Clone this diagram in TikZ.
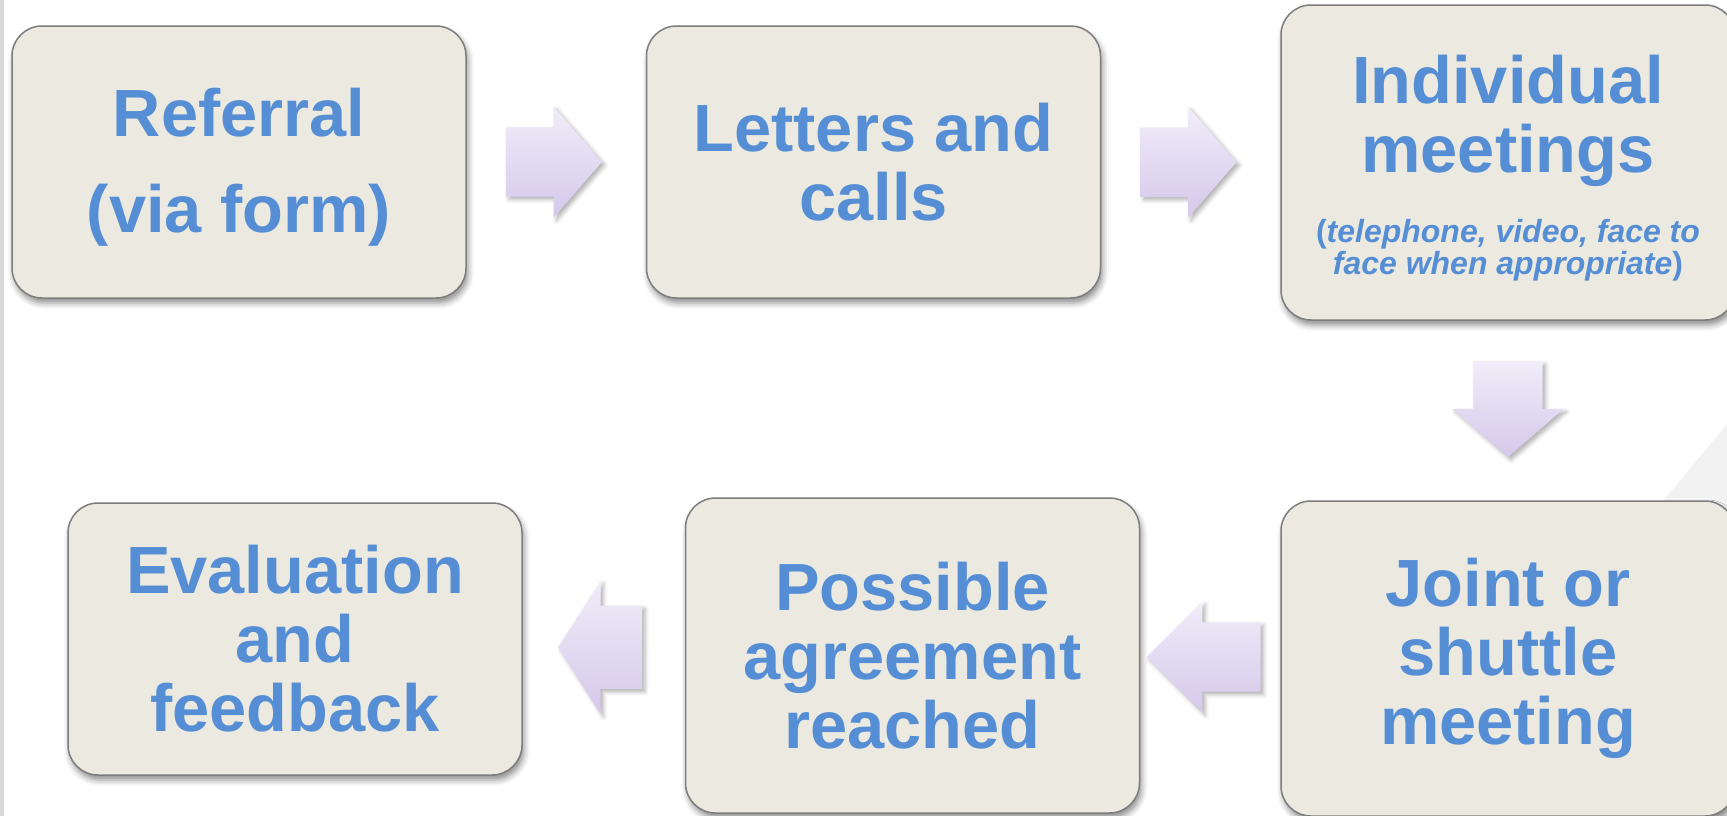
\documentclass[tikz,border=0pt]{standalone}
\usepackage{fontspec}
\setmainfont{Liberation Sans}
\usetikzlibrary{shapes.arrows,calc,shadows.blur}
\definecolor{boxfill}{RGB}{236,234,224}
\definecolor{boxline}{RGB}{125,125,125}
\definecolor{stepblue}{RGB}{85,142,213}
\definecolor{arrowtop}{RGB}{241,237,249}
\definecolor{arrowbot}{RGB}{212,200,234}
\definecolor{sidegrey}{RGB}{217,217,217}
\definecolor{cornergrey}{RGB}{242,242,242}
\newcommand{\smallnote}[1]{{\fontsize{9.1}{9.1}\selectfont #1}}

\begin{document}
\begin{tikzpicture}[
        x=0.1mm, y=-0.1mm,
        box/.style={rectangle, rounded corners=3mm, draw=boxline, line width=0.15mm,
            fill=boxfill, text=stepblue, inner sep=0pt,
            minimum width=45.4mm, minimum height=#1,
            align=center, font=\fontsize{19}{19.6}\selectfont\bfseries,
            blur shadow={shadow xshift=0.2mm, shadow yshift=-0.5mm,
                shadow blur radius=0.6mm, shadow opacity=45}},
        box/.default=27.2mm,
        flow/.style={single arrow, draw=none, top color=arrowtop, bottom color=arrowbot,
            anchor=tail, inner sep=0pt, inner ysep=3.4mm, single arrow head extend=2.1mm,
            minimum height=9.6mm, single arrow tip angle=98,
            blur shadow={shadow xshift=0.3mm, shadow yshift=-0.3mm,
                shadow blur radius=0.4mm, shadow opacity=30}}
    ]
        \useasboundingbox (0,0) rectangle (1727,816);
        \fill[sidegrey] (0,0) rectangle (4,816);
        \fill[cornergrey] (1600,577) -- (1727,424) -- (1727,816) -- (1600,816) -- cycle;

        % top row
        \node[box] (referral) at (239,162) {\rule{0pt}{5.9mm}Referral\\[2.7mm](via form)};
        \node[box] (letters) at (873.5,162) {Letters and\\calls};
        \node[box=31.5mm] (individual) at (1508,162.5)
            {\rule{0pt}{5.9mm}Individual\\meetings\\[0.1mm]\smallnote{(\textit{telephone, video, face to}}\\[-3.7mm]\smallnote{\textit{face when appropriate})}};

        % bottom row
        \node[box=31.5mm] (joint) at (1508,658.5) {Joint or\\shuttle\\meeting};
        \node[box=31.5mm] (agreement) at (912.5,655.5) {Possible\\agreement\\reached};
        \node[box] (evaluation) at (295,639) {Evaluation\\and\\feedback};

        % arrows, placed by their tails
        \node[flow] (a1) at ($($(referral.east)!0.5!(letters.west)$)+(-51,0)$) {};
        \node[flow] (a2) at ($($(letters.east)!0.5!(individual.west)$)+(-51,0)$) {};
        \node[flow, shape border rotate=270, inner ysep=0pt, inner xsep=3.4mm]
            (a3) at ($($(individual.south)!0.5!(joint.north)$)+(0,-50)$) {};
        \node[flow, shape border rotate=180, minimum height=11.4mm, single arrow tip angle=90]
            (a4) at ($($(joint.west)!0.5!(agreement.east)$)+(51,0)$) {};
        \node[flow, shape border rotate=180, inner ysep=4.1mm, single arrow head extend=2.5mm,
            minimum height=8.4mm, single arrow tip angle=115]
            (a5) at ($($(agreement.west)!0.5!(evaluation.east)$)+(39,0)$) {};
\end{tikzpicture}
\end{document}
